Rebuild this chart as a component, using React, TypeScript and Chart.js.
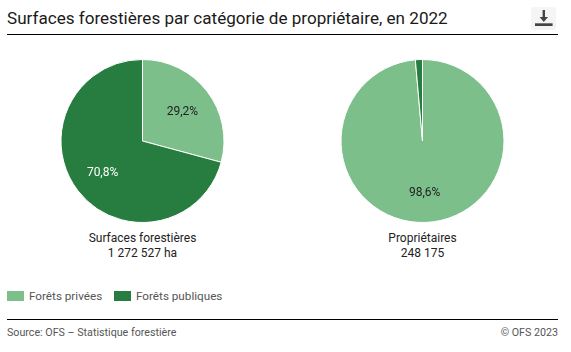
import React, { useEffect, useRef } from "react";
import { Chart, registerables } from "chart.js";

Chart.register(...registerables);

const title = "Surfaces forestières par catégorie de propriétaire, en 2022";
const categories = ["Forêts privées", "Forêts publiques"];
const colors = ["#7dbf8a", "#267d3f"];
const labelColors = ["#222222", "#ffffff"];
const surfaceValues = [29.2, 70.8];
const ownerValues = [98.6, 1.4];
const surfaceCaption = ["Surfaces forestières", "1 272 527 ha"];
const ownerCaption = ["Propriétaires", "248 175"];
const source = "Source: OFS – Statistique forestière";
const copyright = "© OFS 2023";

const FONT = "Roboto, sans-serif";
const MIN_LABEL = 5;

const sliceLabels = {
  id: "sliceLabels",
  afterDatasetsDraw(chart: any) {
    const { ctx } = chart;
    const meta = chart.getDatasetMeta(0);
    const values = chart.data.datasets[0].data as number[];
    ctx.save();
    ctx.font = `12px ${FONT}`;
    ctx.textAlign = "center";
    ctx.textBaseline = "middle";
    meta.data.forEach((arc: any, i: number) => {
      if (values[i] < MIN_LABEL) return;
      const mid = (arc.startAngle + arc.endAngle) / 2;
      const r = arc.outerRadius * 0.617;
      ctx.fillStyle = labelColors[i];
      ctx.fillText(
        `${values[i].toFixed(1).replace(".", ",")}%`,
        arc.x + Math.cos(mid) * r,
        arc.y + Math.sin(mid) * r + 1.5
      );
    });
    ctx.restore();
  },
};

function Pie({ values, left }: { values: number[]; left: number }) {
  const ref = useRef<HTMLCanvasElement>(null);
  useEffect(() => {
    const chart = new Chart(ref.current!, {
      type: "pie",
      data: {
        labels: categories,
        datasets: [
          {
            data: values,
            backgroundColor: colors,
            borderColor: "#ffffff",
            borderWidth: 1,
            radius: 81.5,
          },
        ],
      },
      options: {
        responsive: false,
        animation: false,
        layout: { padding: 0 },
        plugins: { legend: { display: false }, tooltip: { enabled: false } },
      },
      plugins: [sliceLabels],
    });
    return () => chart.destroy();
  }, []);
  return (
    <canvas
      ref={ref}
      width={181}
      height={180}
      style={{ position: "absolute", left, top: 51, width: 181, height: 180 }}
    />
  );
}

function Caption({ lines, center }: { lines: string[]; center: number }) {
  return (
    <div
      style={{
        position: "absolute",
        left: center - 100,
        width: 200,
        top: 231,
        textAlign: "center",
        fontSize: 12,
        lineHeight: "14.5px",
        color: "#222",
      }}
    >
      {lines.map((l) => (
        <div key={l}>{l}</div>
      ))}
    </div>
  );
}

export default function App() {
  return (
    <div
      style={{
        position: "fixed",
        left: 0,
        top: 0,
        width: 571,
        height: 352,
        background: "#fff",
        fontFamily: FONT,
        overflow: "hidden",
      }}
    >
      <div
        style={{
          position: "absolute",
          left: 7,
          top: 7,
          fontSize: 17.08,
          lineHeight: "22px",
          color: "#1a1a1a",
          whiteSpace: "nowrap",
        }}
      >
        {title}
      </div>
      <div
        style={{
          position: "absolute",
          left: 531,
          top: 7,
          width: 25,
          height: 23,
          background: "#f5f5f5",
          borderRadius: 3,
        }}
      >
        <svg width="25" height="23" viewBox="0 0 25 23">
          <path d="M11.6 3h2.4v7h3l-4.2 5-4.2-5h3z" fill="#444" />
          <rect x="4" y="16.3" width="17.6" height="2.7" fill="#444" />
        </svg>
      </div>
      <div style={{ position: "absolute", left: 7, top: 34, width: 551, height: 1, background: "#000" }} />

      <Pie values={surfaceValues} left={52} />
      <Pie values={ownerValues} left={332} />
      <Caption lines={surfaceCaption} center={142.5} />
      <Caption lines={ownerCaption} center={422.5} />

      {categories.map((c, i) => (
        <React.Fragment key={c}>
          <div
            style={{
              position: "absolute",
              left: i === 0 ? 7 : 114,
              top: 291,
              width: 17,
              height: 10,
              background: colors[i],
            }}
          />
          <div
            style={{
              position: "absolute",
              left: i === 0 ? 29 : 136,
              top: 289,
              fontSize: 11.7,
              lineHeight: "14px",
              color: "#555",
              whiteSpace: "nowrap",
            }}
          >
            {c}
          </div>
        </React.Fragment>
      ))}

      <div style={{ position: "absolute", left: 7, top: 319, width: 551, height: 1, background: "#000" }} />
      <div style={{ position: "absolute", left: 7, top: 326, fontSize: 10.7, lineHeight: "14px", color: "#555" }}>{source}</div>
      <div style={{ position: "absolute", right: 13, top: 326, fontSize: 10.7, lineHeight: "14px", color: "#555" }}>{copyright}</div>
    </div>
  );
}
